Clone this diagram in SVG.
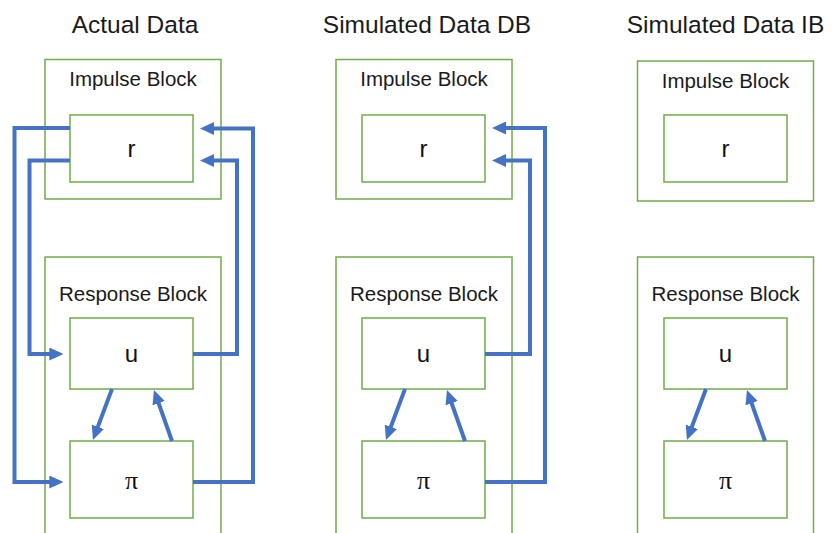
<svg xmlns="http://www.w3.org/2000/svg" width="832" height="533" viewBox="0 0 832 533">
<defs>
<style>
.blk{fill:none;stroke:#70AD47;stroke-width:1.5}
.box{fill:#fff;stroke:#70AD47;stroke-width:1.5}
.title{font-family:"Liberation Sans",Arial,sans-serif;font-size:24.5px;fill:#1a1a1a;text-anchor:middle}
.bl{font-family:"Liberation Sans",Arial,sans-serif;font-size:20.5px;fill:#1a1a1a;text-anchor:middle}
.lbl{font-family:"Liberation Sans",Arial,sans-serif;font-size:24px;fill:#111;text-anchor:middle}
.pi{font-family:"Liberation Serif","Times New Roman",serif;font-size:26px;fill:#111;text-anchor:middle}
.c{fill:none;stroke:#4472C4;stroke-width:4;marker-end:url(#ah)}
</style>
<marker id="ah" markerUnits="userSpaceOnUse" markerWidth="14" markerHeight="13" refX="7" refY="6.5" orient="auto">
<path d="M0,0 L14,6.5 L0,13 z" fill="#4472C4"/>
</marker>
</defs>
<rect width="832" height="533" fill="#fff"/>

<g id="titles">
<text class="title" x="135" y="33">Actual Data</text>
<text class="title" x="427" y="33">Simulated Data DB</text>
<text class="title" x="725.5" y="33">Simulated Data IB</text>
</g>

<!-- Panel 1 -->
<g id="p1-impulse">
<rect class="blk" x="45" y="59.5" width="176" height="139.5"/>
<text class="bl" x="133" y="86">Impulse Block</text>
</g>
<g id="p1-response">
<rect class="blk" x="45" y="257" width="176" height="290"/>
<text class="bl" x="133" y="301">Response Block</text>
</g>
<g id="p1-r">
<rect class="box" x="70" y="115" width="123" height="67"/>
<text class="lbl" x="131.5" y="157">r</text>
</g>
<g id="p1-u">
<rect class="box" x="70" y="318" width="123" height="71"/>
<text class="lbl" x="131.5" y="362">u</text>
</g>
<g id="p1-pi">
<rect class="box" x="70" y="441" width="123" height="77"/>
<text class="pi" x="131.5" y="489">π</text>
</g>

<!-- Panel 2 -->
<g id="p2-impulse">
<rect class="blk" x="336" y="59.5" width="176" height="139.5"/>
<text class="bl" x="424" y="86">Impulse Block</text>
</g>
<g id="p2-response">
<rect class="blk" x="336" y="257" width="176" height="290"/>
<text class="bl" x="424" y="301">Response Block</text>
</g>
<g id="p2-r">
<rect class="box" x="362" y="115" width="123" height="67"/>
<text class="lbl" x="423.5" y="157">r</text>
</g>
<g id="p2-u">
<rect class="box" x="362" y="318" width="123" height="71"/>
<text class="lbl" x="423.5" y="362">u</text>
</g>
<g id="p2-pi">
<rect class="box" x="362" y="441" width="123" height="77"/>
<text class="pi" x="423.5" y="489">π</text>
</g>

<!-- Panel 3 -->
<g id="p3-impulse">
<rect class="blk" x="637.5" y="61" width="176" height="140"/>
<text class="bl" x="725.5" y="88">Impulse Block</text>
</g>
<g id="p3-response">
<rect class="blk" x="637.5" y="257" width="176" height="290"/>
<text class="bl" x="725.5" y="301">Response Block</text>
</g>
<g id="p3-r">
<rect class="box" x="664" y="115" width="123" height="67"/>
<text class="lbl" x="725.5" y="157">r</text>
</g>
<g id="p3-u">
<rect class="box" x="664" y="318" width="123" height="71"/>
<text class="lbl" x="725.5" y="362">u</text>
</g>
<g id="p3-pi">
<rect class="box" x="664" y="441" width="123" height="77"/>
<text class="pi" x="725.5" y="489">π</text>
</g>

<g id="connectors">
<!-- panel 1 -->
<path class="c" d="M70,128 H14.5 V482 H56.3"/>
<path class="c" d="M70,160.5 H29.5 V354 H56.3"/>
<path class="c" d="M193,482 H253 V128.5 H207"/>
<path class="c" d="M193,354 H237 V160.5 H207"/>
<path class="c" d="M112,389 L95.4,433.4"/>
<path class="c" d="M172,441 L156.3,396.6"/>
<!-- panel 2 -->
<path class="c" d="M485,354 H530 V160.5 H499"/>
<path class="c" d="M485,482 H545 V128 H499"/>
<path class="c" d="M405,389 L388.4,433.4"/>
<path class="c" d="M465,441 L449.3,396.6"/>
<!-- panel 3 -->
<path class="c" d="M706,389 L689.4,433.4"/>
<path class="c" d="M765,441 L749.3,396.6"/>
</g>
</svg>
